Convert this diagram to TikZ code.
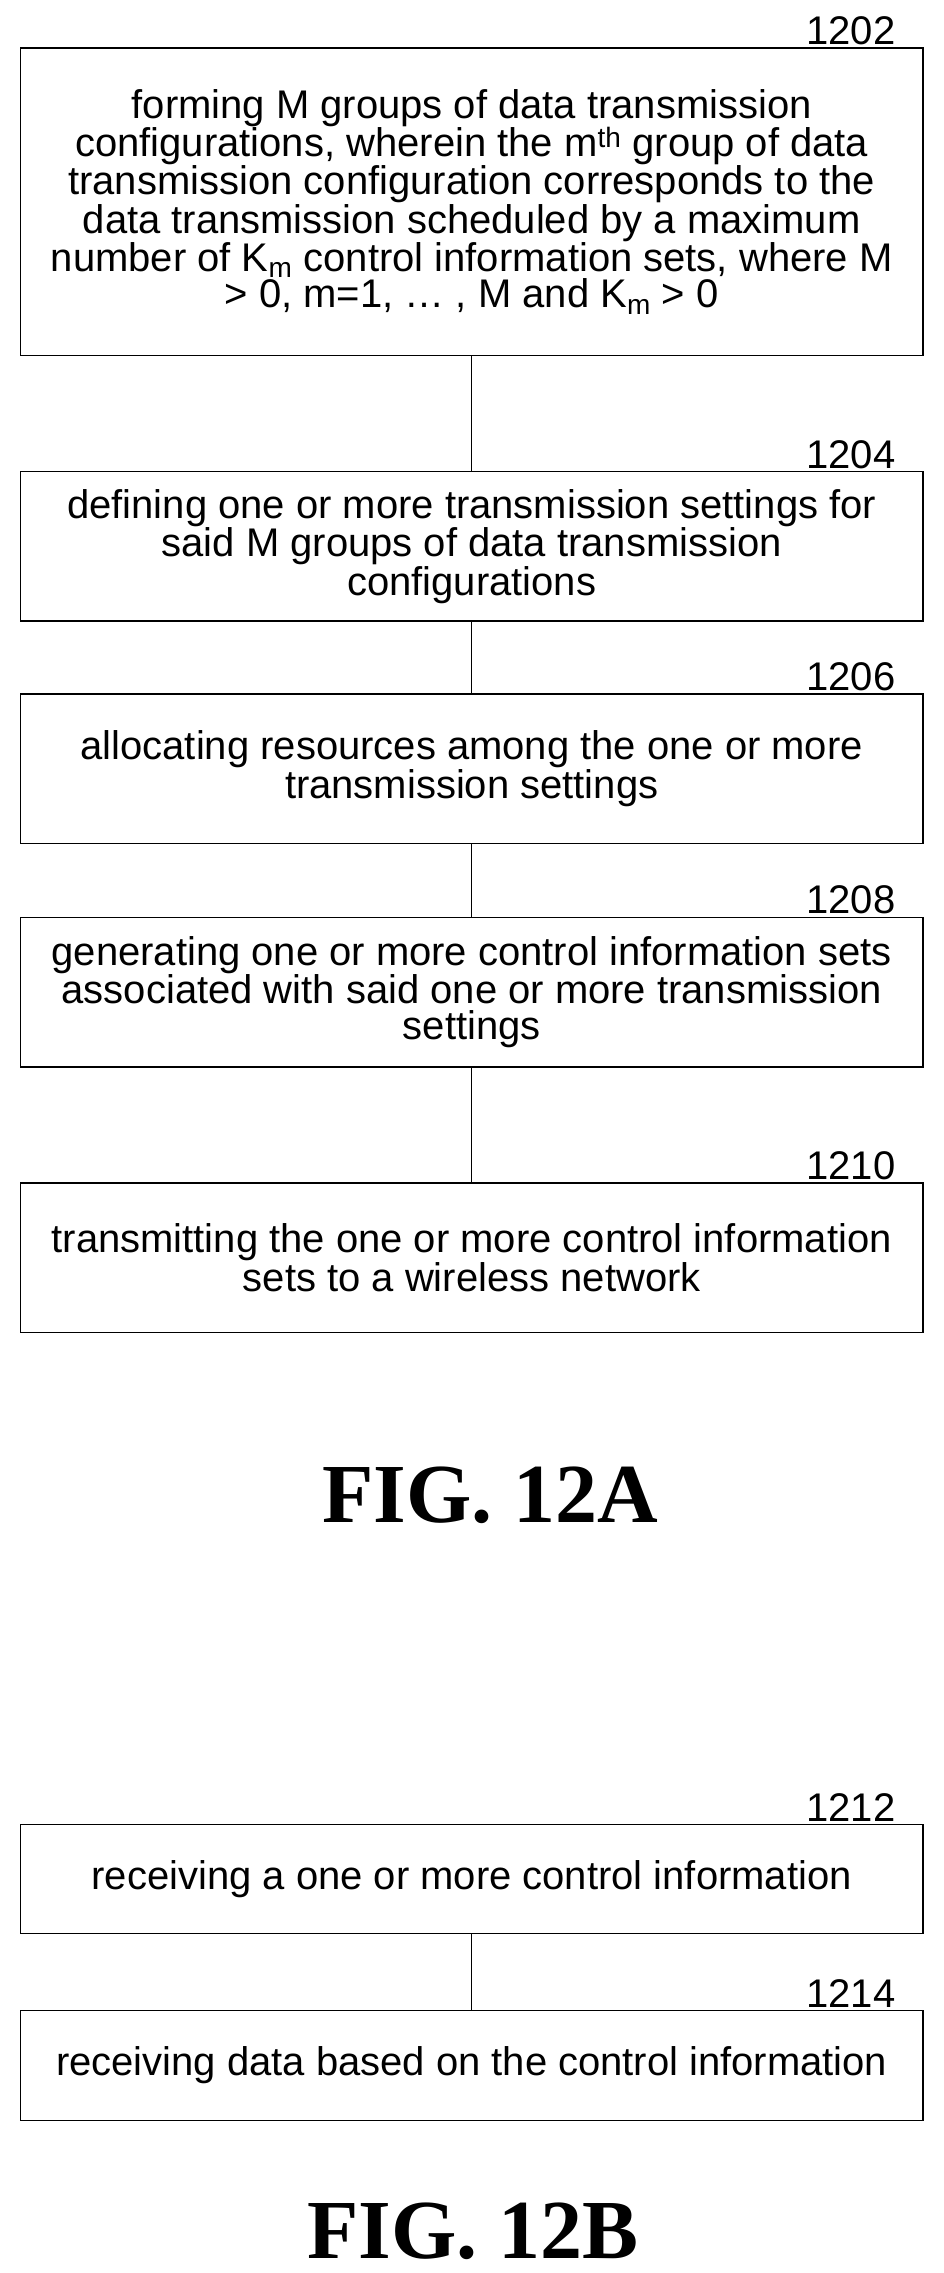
\documentclass[tikz,border=0pt]{standalone}
\usepackage{fontspec}
\setmainfont{Liberation Sans}
\newfontfamily\figfont{Liberation Serif}
\begin{document}
\begin{tikzpicture}[x=1.452pt,y=-1.452pt,
  stepbox/.style={draw,line width=1.5pt,inner sep=0pt,align=center,font=\fontsize{40}{36.5}\selectfont},
  lbl/.style={anchor=south east,inner sep=0pt,font=\fontsize{40}{36}\selectfont},
  fig/.style={font=\figfont\bfseries\fontsize{84}{90}\selectfont},
  conn/.style={line width=1.5pt}]
\useasboundingbox (0,0) rectangle (650,1566);
\newcommand{\stepnode}[4]{\node[stepbox,minimum width=622*1.452pt,minimum height=(#3-#2)*1.452pt] (#1) at (325,{(#2+#3)/2}) {#4};}
\stepnode{b1}{33}{245}{forming M groups of data transmission\\configurations, wherein the m\textsuperscript{th} group of data\\transmission configuration corresponds to the\\data transmission scheduled by a maximum\\number of K\textsubscript{m} control information sets, where M\\> 0, m=1, \dots\ , M and K\textsubscript{m} > 0}
\stepnode{b2}{325}{428}{defining one or more transmission settings for\\said M groups of data transmission\\configurations}
\stepnode{b3}{478}{581}{allocating resources among the one or more\\transmission settings}
\stepnode{b4}{632}{735}{generating one or more control information sets\\associated with said one or more transmission\\settings}
\stepnode{b5}{815}{918}{transmitting the one or more control information\\sets to a wireless network}
\stepnode{b6}{1257}{1332}{receiving a one or more control information}
\stepnode{b7}{1385}{1461}{receiving data based on the control information}
\node[lbl] (l1) at (617,31) {1202};
\node[lbl] (l2) at (617,323) {1204};
\node[lbl] (l3) at (617,476) {1206};
\node[lbl] (l4) at (617,630) {1208};
\node[lbl] (l5) at (617,813) {1210};
\node[lbl] (l6) at (617,1255) {1212};
\node[lbl] (l7) at (617,1383) {1214};
\draw[conn] (b1) -- (b2);
\draw[conn] (b2) -- (b3);
\draw[conn] (b3) -- (b4);
\draw[conn] (b4) -- (b5);
\draw[conn] (b6) -- (b7);
\node[fig] (f1) at (338,1030) {FIG. 12A};
\node[fig] (f2) at (326,1537) {FIG. 12B};
\end{tikzpicture}
\end{document}
